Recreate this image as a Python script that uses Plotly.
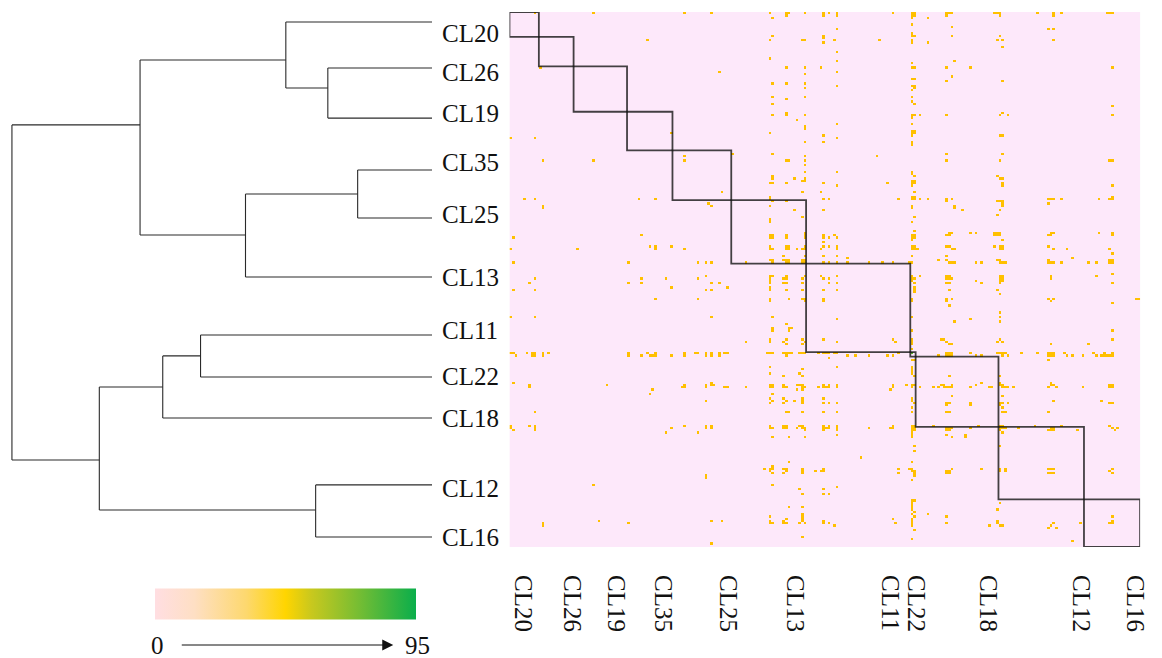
import numpy as np
import plotly.graph_objects as go

W, H = 1162, 658
FONT = "Liberation Serif"


def px(x):
    return x / W


def py(y):
    return 1 - y / H


# ---------------- data ----------------
clusters = ["CL20", "CL26", "CL19", "CL35", "CL25", "CL13", "CL11", "CL22", "CL18", "CL12", "CL16"]
cluster_sizes = [11, 13, 20, 17, 22, 28, 39, 2, 31, 32, 21]
N = sum(cluster_sizes)
bottom_label_pos = [5, 23.5, 40, 57.5, 82, 107, 142.5, 152, 179, 214, 234]

# dendrogram (heights normalised to root = 1, leaf positions in row units)
leaf_rows = [4.4, 24.7, 46.8, 69.7, 90.9, 116.9, 142.5, 161.0, 179.1, 208.6, 231.6]
label_rows = [9.3, 26.5, 44.6, 66.6, 89.5, 116.9, 140.7, 161.0, 179.1, 210.0, 231.6]
merge_left = [1, 0, 3, 13, 12, 6, 16, 9, 17, 15]
merge_right = [2, 11, 4, 5, 14, 7, 8, 10, 18, 19]
merge_height = [0.248, 0.348, 0.177, 0.444, 0.695, 0.551, 0.641, 0.277, 0.792, 1.0]
merge_row = [33.5, 21.2, 80.3, 98.4, 49.8, 151.7, 165.4, 219.7, 197.6, None]

# non-zero cells of the co-occurrence matrix, as (column, row)
dots_left_top = [(9,0),(31,0),(65,0),(75,0),(51,12),(11,24),(78,26),(0,55),(9,55),(60,53),(65,63),(65,65),(12,65),(31,65),
    (5,82),(9,82),(12,85),(12,86),(48,82),(54,82),(74,84),(75,85),(1,99),(49,98),(0,104),(25,104),(52,103),(54,103),(54,104),
    (60,103),(65,104),(1,110),(44,110),(70,110),(73,110),(75,110),(73,116)]
dots_left_bottom = [(9,117),(49,117),(58,117),(70,117),(7,119),(44,119),(49,119),(75,119),(78,119),(60,121),(1,122),(9,122),(73,122),
    (75,122),(54,126),(70,126),(0,134),(9,134),(75,134),
    (0,150),(1,150),(2,151),(6,150),(8,150),(9,150),(8,151),(9,151),(12,150),(12,151),(14,150),(44,150),(44,151),(49,151),(51,150),
    (52,151),(53,151),(54,151),(54,150),(60,151),(65,150),(65,151),(69,150),(70,150),(73,150),(73,151),(75,150),(75,151),(78,150),(78,151),
    (1,163),(7,164),(7,165),(36,164),(64,165),(65,164),(65,165),(73,164),(73,165),(75,163),(75,164),(76,164),(53,166),(52,168),(73,171),(9,176),
    (0,182),(0,183),(1,184),(7,182),(9,182),(9,183),(9,184),(58,185),(60,183),(65,182),(70,185),(73,182),(73,183),(75,182),(75,183),
    (73,204),(73,205),(31,208),(33,224),(75,224),(12,225),(12,226),(44,225),(75,234)]
dots_mid_top = [(97,0),(103,0),(104,0),(103,1),(110,0),(117,0),(117,1),(119,0),(122,0),(122,1),(143,0),(150,0),(151,0),(150,1),(151,1),(150,2),
    (98,2),(156,2),(150,5),(122,7),(98,10),(117,10),(117,11),(150,9),(150,10),(151,10),
    (97,12),(109,12),(110,12),(121,12),(138,12),(150,12),(150,13),(156,13),(117,13),
    (122,17),(97,20),(122,21),(150,22),(103,24),(110,24),(116,24),(150,24),(151,24),(122,26),(110,27),(150,29),(151,29),
    (98,31),(103,31),(110,31),(122,32),(150,32),(151,32),(151,33),(150,34),(110,33),
    (98,37),(110,37),(150,37),(103,38),(150,39),(98,40),(151,40),
    (98,45),(103,44),(103,45),(110,45),(150,45),(151,45),(150,46),(153,45),(107,47),(122,49),(150,49),
    (110,50),(110,51),(150,52),(151,52),(150,53),(151,53),(150,54),(97,53),(117,54),(122,55),
    (110,57),(117,57),(150,57),(150,58),(98,62),(83,62),(110,63),(137,63),(103,65),(104,65),(110,65),(110,67),
    (110,70),(122,70),(150,70),(150,71),(151,72),(98,72),(98,73),(106,73),(109,74),(110,74),(110,73),(150,74),(151,74),(150,75),(151,75),(150,76),
    (97,75),(98,75),(103,75),(117,75),(122,76),(141,75),
    (79,79),(109,79),(116,79),(151,79),
    (97,81),(97,82),(98,83),(150,81),(151,81),(150,82),(151,82),(153,82),(156,82),(117,82),(119,82),(145,82),(103,83),
    (97,85),(150,85),(150,86),(106,87),(117,87),(109,90),(151,90),(97,91),(97,92),(150,92),(151,96),
    (97,98),(98,98),(97,99),(98,99),(103,98),(103,99),(110,97),(110,98),(110,99),(117,98),(117,99),(119,99),(121,98),(122,99),
    (150,98),(151,98),(150,99),(151,99),(150,100),(117,101),
    (97,103),(97,104),(98,104),(103,103),(104,103),(103,104),(104,104),(107,104),(109,104),(110,103),(110,104),(116,104),(117,103),
    (119,103),(122,103),(122,104),(150,103),(151,103),(150,104),(151,104),(152,104),
    (102,107),(110,107),(117,107),(122,107),(150,107),(126,108),
    (97,109),(98,109),(98,110),(102,109),(103,109),(104,109),(103,110),(104,110),(109,109),(110,109),(109,110),(110,110),(117,110),
    (119,110),(122,110),(126,110),(88,110),(134,110),(139,110),(143,110),(149,110),(150,110),
    (97,116),(98,116),(103,116),(110,116),(116,116),(122,116),(150,116),(153,116)]
dots_right_top = [(163,0),(164,0),(165,0),(163,1),(181,0),(182,0),(183,0),(183,1),(197,0),(203,0),(203,1),(206,0),(223,0),(224,0),(225,0),
    (165,6),(201,7),(203,7),(165,10),(183,10),(182,12),(184,12),(203,12),(184,15),(166,21),(163,24),(172,24),(225,24),(165,28),
    (163,30),(184,30),(225,41),
    (183,45),(184,44),(186,45),(163,45),(225,45),(183,54),(184,54),(163,62),(184,62),(163,65),(183,65),(224,65),(225,65),
    (182,72),(183,73),(184,73),(184,75),(184,76),(225,76),
    (163,82),(163,83),(165,82),(182,83),(183,83),(184,83),(184,84),(201,82),(202,82),(203,82),(206,82),(220,82),(224,82),(225,82),
    (225,81),(201,84),
    (166,85),(166,86),(169,87),(184,85),(183,87),(182,89),
    (163,98),(164,97),(165,97),(164,98),(172,97),(174,97),(181,97),(182,97),(183,97),(181,98),(182,98),(183,98),(184,100),(201,98),
    (202,98),(202,97),(203,97),(220,97),(225,97),(225,98),
    (163,103),(164,103),(165,104),(166,104),(163,107),(181,103),(183,103),(184,103),(183,104),(184,104),(201,103),(203,104),(208,104),
    (224,104),(225,106),
    (160,109),(163,109),(164,110),(165,110),(166,110),(174,110),(176,110),(182,109),(183,109),(183,110),(184,110),(185,110),(201,109),
    (201,110),(202,110),(203,110),(206,110),(210,108),(216,110),(219,110),(224,109),(225,109),(224,110),(225,110),
    (163,116),(164,116),(183,116),(184,116),(202,116),(219,116),(225,115)]
dots_mid_bottom = [(97,117),(97,118),(97,119),(97,121),(102,117),(103,117),(102,119),(103,119),(109,117),(109,119),(117,117),(119,117),
    (119,119),(122,119),(81,121),(150,117),(150,118),(151,117),(151,119),(151,121),(151,123),
    (97,122),(103,122),(109,122),(117,122),(122,122),(151,122),
    (97,126),(97,127),(104,126),(109,126),(110,126),(110,127),(117,126),(117,127),(150,126),(150,127),
    (98,134),(122,135),(150,134),(103,137),(104,139),(104,140),(105,139),(98,139),(98,140),(150,140),
    (97,144),(97,145),(103,144),(102,145),(103,146),(109,144),(110,145),(109,146),(117,144),(122,145),(143,144),(144,145),(88,145),
    (150,144),(150,145),(150,146),(150,148),
    (78,150),(80,150),(81,150),(96,150),(97,150),(98,150),(102,150),(103,150),(104,150),(103,151),(105,150),(108,150),(109,150),
    (110,150),(115,150),(117,150),(118,150),(119,150),(121,150),(119,152),(122,150),(126,151),(129,151),(134,151),(141,151),(143,151),(145,150),
    (151,153),(150,153),
    (97,156),(97,159),(109,157),(122,156),(108,159),(109,160),(102,160),(150,156),(150,157),(150,158),(150,159),(151,160),
    (80,165),(81,165),(88,165),(97,164),(98,164),(97,165),(98,165),(102,164),(102,165),(103,165),(107,164),(107,166),(108,164),
    (109,164),(109,165),(110,165),(109,166),(115,165),(117,164),(117,165),(118,165),(119,165),(119,164),(122,164),(122,165),
    (143,164),(143,165),(142,166),(148,164),(150,164),(150,165),(151,164),(153,165),
    (98,168),(97,170),(98,171),(97,172),(102,170),(103,171),(102,172),(106,171),(109,170),(109,171),(109,172),(117,170),(117,172),
    (119,172),(122,172),(150,170),(150,171),(151,172),(150,174),
    (103,176),(104,176),(109,176),(117,176),(122,176),(150,176),
    (97,182),(97,183),(98,183),(98,187),(102,182),(103,182),(102,183),(103,183),(104,187),(107,183),(108,182),(109,182),(109,183),
    (110,183),(110,184),(110,187),(117,182),(117,183),(117,184),(118,183),(119,183),(119,182),(122,182),(122,183),(122,184),(122,186),
    (134,183),(143,182),(143,183),(142,183),(150,182),(151,182),(150,183),(151,183),(150,184),(151,184),(150,185),(150,186),(150,187),
    (151,191),(151,193),(131,196),(104,198),(150,198),
    (95,201),(97,201),(98,200),(98,201),(97,202),(98,203),(102,201),(103,201),(103,202),(102,203),(109,201),(109,202),(109,203),
    (114,202),(116,202),(117,202),(117,201),(145,201),(145,203),(149,201),(150,201),(150,202),(151,202),(151,203),(151,204),
    (98,208),(150,206),(108,210),(109,212),(117,210),(117,212),(119,212),(122,209),
    (150,215),(151,215),(150,216),(150,217),(150,218),(150,219),(151,220),(104,218),(109,218),
    (79,224),(97,222),(97,224),(97,225),(98,225),(103,223),(102,224),(103,225),(102,225),(109,221),(109,222),(109,223),(109,224),
    (108,225),(110,225),(117,224),(117,225),(119,225),(121,226),(143,223),(144,225),(150,221),(151,222),(150,223),(150,224),
    (150,225),(150,226),(156,221),
    (151,228),(109,231),(150,232)]
dots_right_bottom = [(163,117),(164,117),(165,117),(163,119),(164,119),(174,118),(176,119),(183,117),(184,117),(183,118),(184,118),
    (183,119),(202,117),(225,119),
    (164,122),(182,122),(183,124),(163,126),(163,127),(165,126),(201,126),(202,127),(203,126),(225,128),(234,126),(235,126),(164,129),
    (183,132),(183,134),(183,136),(166,136),(172,135),(225,140),
    (161,144),(162,144),(163,145),(164,146),(165,146),(182,145),(183,144),(184,145),(202,146),(216,146),(225,144),
    (160,151),(163,150),(164,150),(165,150),(163,151),(164,151),(165,151),(172,150),(174,151),(176,151),(182,150),(183,150),(184,150),
    (185,150),(186,151),(184,151),(191,150),(197,150),(201,150),(202,150),(203,150),(201,151),(202,151),(203,151),(207,150),(208,151),
    (210,151),(214,151),(218,150),(219,151),(221,151),(222,151),(223,151),(224,151),(225,151),(222,150),(225,150),(201,153),
    (164,160),(183,160),
    (158,165),(160,165),(161,164),(162,164),(162,165),(163,165),(164,165),(165,164),(165,165),(172,165),(174,164),(176,163),(179,165),
    (180,165),(183,163),(183,164),(184,164),(184,165),(185,165),(186,165),(188,165),(201,165),(202,164),(202,163),(203,164),(204,165),
    (214,165),(224,164),(225,164),(224,165),(225,165),
    (165,169),(184,169),(203,171),(221,171),
    (163,172),(163,173),(164,172),(172,172),(172,173),(183,172),(184,172),(186,172),(183,173),(224,172),(225,172),(184,174),
    (163,176),(164,176),(184,176),(185,176),(201,176),
    (158,182),(163,183),(164,183),(165,183),(163,184),(164,184),(172,183),(175,182),(183,182),(184,182),(183,183),(184,183),(185,183),
    (183,184),(184,185),(190,183),(196,182),(201,184),(202,184),(203,184),(203,183),(202,183),(206,182),(212,184),(224,182),(225,183),
    (226,184),(227,183),(163,186),(165,187),(170,186),(170,187),
    (183,191),
    (163,202),(164,202),(163,203),(164,203),(165,201),(176,201),(183,201),(183,202),(185,201),(185,202),(201,201),(202,201),(203,201),
    (201,203),(202,203),(203,203),(224,202),(225,203),(225,201),
    (183,216),(182,219),
    (163,222),(163,225),(179,226),(182,224),(182,225),(183,226),(184,226),(201,227),(202,226),(203,225),(204,227),(213,225),
    (225,222),(225,224),(224,225),(225,225),
    (210,233)]
dot_value = 40
green_cells = [(150, 150)]
green_value = 88
legend_min, legend_max = 0, 95

# ---------------- matrix ----------------
z = np.zeros((N, N))
for group in (dots_left_top, dots_left_bottom, dots_mid_top, dots_right_top, dots_mid_bottom, dots_right_bottom):
    for c, r in group:
        z[r, c] = dot_value
for c, r in green_cells:
    z[r, c] = green_value

bounds = np.concatenate([[0], np.cumsum(cluster_sizes)])

fig = go.Figure()

fig.add_trace(go.Heatmap(
    z=z, x=np.arange(N) + 0.5, y=np.arange(N) + 0.5,
    coloraxis="coloraxis", hoverinfo="skip", xaxis="x", yaxis="y"))

# ---------------- dendrogram ----------------
node_h = {i: 0.0 for i in range(len(clusters))}
node_y = {i: leaf_rows[i] for i in range(len(clusters))}
dx, dy = [], []
for k in range(len(merge_left)):
    nid = len(clusters) + k
    a, b, h = merge_left[k], merge_right[k], merge_height[k]
    for child in (a, b):
        dx += [node_h[child], h, None]
        dy += [node_y[child], node_y[child], None]
    dx += [h, h, None]
    dy += [node_y[a], node_y[b], None]
    node_h[nid] = h
    node_y[nid] = merge_row[k]

fig.add_trace(go.Scatter(x=dx, y=dy, mode="lines", line=dict(color="#2a2a2a", width=1.1),
                         xaxis="x2", yaxis="y2", hoverinfo="skip", showlegend=False))

# legend colour bar (separate colour axis)
fig.add_trace(go.Scatter(x=[None, None], y=[None, None], mode="markers",
                         marker=dict(color=[legend_min, legend_max], coloraxis="coloraxis2"),
                         xaxis="x2", yaxis="y2", showlegend=False, hoverinfo="skip"))

# ---------------- layout ----------------
ydom = [py(547), py(12)]
shapes = []
for i in range(len(clusters)):
    shapes.append(dict(type="rect", xref="x", yref="y", x0=bounds[i], x1=bounds[i + 1],
                       y0=bounds[i], y1=bounds[i + 1],
                       line=dict(color="rgba(20,20,20,0.8)", width=1.8), fillcolor="rgba(0,0,0,0)"))

annotations = []
for name, r in zip(clusters, label_rows):
    annotations.append(dict(x=px(443), xref="paper", y=r, yref="y2", text=name, showarrow=False,
                            xanchor="left", yanchor="middle", font=dict(family=FONT, size=25, color="#111111")))
annotations.append(dict(x=px(159), y=py(645), xref="paper", yref="paper", text=str(legend_min), showarrow=False,
                        xanchor="center", yanchor="middle", font=dict(family=FONT, size=25, color="#111111")))
annotations.append(dict(x=px(420), y=py(645), xref="paper", yref="paper", text=str(legend_max), showarrow=False,
                        xanchor="center", yanchor="middle", font=dict(family=FONT, size=25, color="#111111")))
annotations.append(dict(x=px(396), y=py(645), xref="paper", yref="paper", text="", showarrow=True,
                        ax=-213, ay=0, arrowhead=2, arrowsize=2.2, arrowwidth=1, arrowcolor="#111111", standoff=0))

fig.update_layout(
    width=W, height=H, margin=dict(l=0, r=0, t=0, b=0),
    paper_bgcolor="white", plot_bgcolor="white", showlegend=False,
    xaxis=dict(domain=[px(513), px(1148)], range=[0, N], showgrid=False, zeroline=False, showline=False,
               tickmode="array", tickvals=bottom_label_pos, ticktext=clusters, tickangle=90,
               ticks="outside", ticklen=22, tickcolor="rgba(0,0,0,0)",
               tickfont=dict(family=FONT, size=25, color="#111111")),
    yaxis=dict(domain=ydom, range=[N, 0], showgrid=False, zeroline=False, showticklabels=False, ticks=""),
    xaxis2=dict(domain=[px(8), px(435)], range=[1.0095, 0], showgrid=False, zeroline=False,
                showticklabels=False, ticks="", anchor="y2"),
    yaxis2=dict(domain=ydom, range=[N, 0], showgrid=False, zeroline=False, showticklabels=False,
                ticks="", anchor="x2"),
    coloraxis=dict(cmin=legend_min, cmax=legend_max, showscale=False,
                   colorscale=[[0, "#FDE8FA"], [0.01, "#FDE8FA"], [0.01, "#FFC000"], [0.7, "#FFC000"],
                               [0.7, "#5DBB2D"], [1, "#5DBB2D"]]),
    coloraxis2=dict(cmin=legend_min, cmax=legend_max, showscale=True,
                    colorscale=[[0, "#FFDEE2"], [0.15, "#FEDFC4"], [0.35, "#FDD86E"], [0.5, "#FFD500"],
                                [0.6, "#C8C81E"], [0.78, "#76BD33"], [1, "#0AAE4B"]],
                    colorbar=dict(orientation="h", x=px(287.5), xanchor="center", y=py(603.5),
                                  yanchor="middle", len=261, lenmode="pixels", thickness=31,
                                  thicknessmode="pixels", xpad=0, ypad=0, outlinewidth=0,
                                  showticklabels=False, ticks="")),
    shapes=shapes, annotations=annotations,
)

fig.write_html("out.html", config={"displayModeBar": False, "staticPlot": True},
               post_script="document.body.style.margin='0';document.body.style.overflow='hidden';")
